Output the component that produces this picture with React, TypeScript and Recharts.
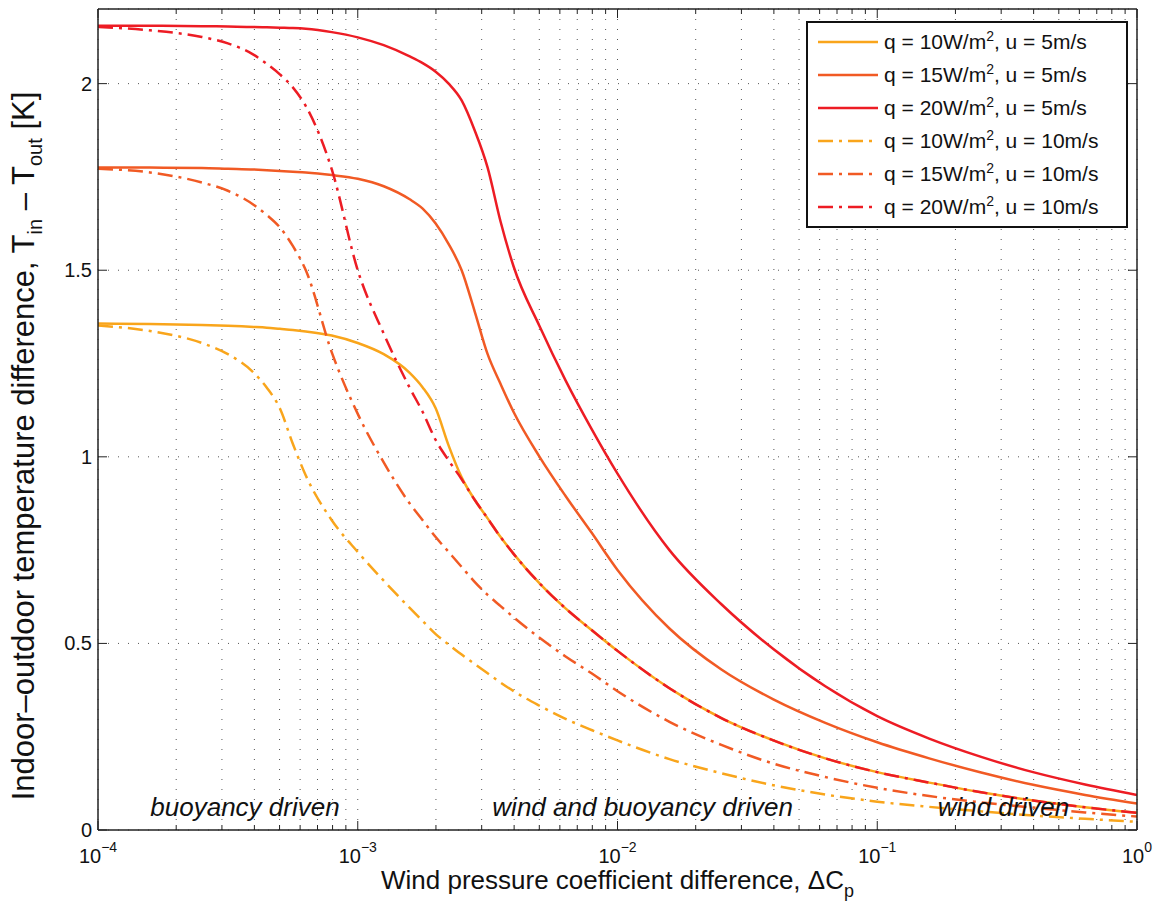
import React from "react";
import { LineChart, Line, XAxis, YAxis, CartesianGrid, Legend, ReferenceDot, Label } from "recharts";

// sample positions, as powers of ten of the pressure coefficient difference
const cpExponents = [
  -4, -3.8, -3.6, -3.5, -3.4, -3.35, -3.3, -3.25, -3.2, -3.1, -3.0, -2.9, -2.8, -2.75, -2.7, -2.65, -2.6, -2.55,
  -2.5, -2.45, -2.4, -2.3, -2.2, -2.1, -2.0, -1.8, -1.6, -1.4, -1.2, -1.0, -0.8, -0.6, -0.4, -0.2, 0,
];

// u = 5 m/s (solid)
const q10u5 = [
  1.357, 1.356, 1.353, 1.351, 1.348, 1.346, 1.343, 1.34, 1.336, 1.325, 1.305, 1.275, 1.225, 1.186, 1.13, 1.03, 0.945,
  0.885, 0.835, 0.785, 0.74, 0.661, 0.594, 0.536, 0.48, 0.38, 0.3, 0.24, 0.192, 0.155, 0.127, 0.101, 0.079, 0.061, 0.046,
];
const q15u5 = [
  1.775, 1.775, 1.774, 1.772, 1.77, 1.768, 1.766, 1.764, 1.762, 1.755, 1.745, 1.725, 1.69, 1.665, 1.625, 1.57, 1.5,
  1.39, 1.275, 1.195, 1.12, 1.0, 0.895, 0.797, 0.697, 0.54, 0.43, 0.35, 0.287, 0.235, 0.192, 0.154, 0.121, 0.094, 0.071,
];
const q20u5 = [
  2.155, 2.155, 2.154, 2.153, 2.152, 2.151, 2.15, 2.149, 2.147, 2.138, 2.124, 2.103, 2.073, 2.055, 2.032, 2.0, 1.955,
  1.875, 1.775, 1.63, 1.51, 1.35, 1.205, 1.075, 0.955, 0.75, 0.605, 0.485, 0.385, 0.305, 0.245, 0.196, 0.155, 0.122, 0.094,
];

// u = 10 m/s (dash-dot)
const q10u10 = [
  1.352, 1.337, 1.305, 1.275, 1.225, 1.185, 1.13, 1.035, 0.95, 0.83, 0.745, 0.668, 0.595, 0.56, 0.525, 0.497, 0.47,
  0.445, 0.42, 0.395, 0.372, 0.333, 0.298, 0.268, 0.24, 0.19, 0.152, 0.12, 0.095, 0.076, 0.062, 0.05, 0.039, 0.03, 0.022,
];
const q15u10 = [
  1.772, 1.762, 1.735, 1.713, 1.675, 1.648, 1.615, 1.565, 1.5, 1.28, 1.115, 0.985, 0.875, 0.83, 0.785, 0.745, 0.705,
  0.665, 0.63, 0.6, 0.57, 0.515, 0.465, 0.42, 0.372, 0.29, 0.228, 0.178, 0.142, 0.113, 0.091, 0.074, 0.06, 0.047, 0.036,
];
const q20u10 = [
  2.152, 2.143, 2.125, 2.108, 2.077, 2.053, 2.025, 1.99, 1.94, 1.77, 1.5, 1.33, 1.185, 1.12, 1.045, 0.99, 0.94,
  0.885, 0.835, 0.785, 0.74, 0.661, 0.594, 0.536, 0.48, 0.38, 0.3, 0.24, 0.192, 0.155, 0.127, 0.101, 0.079, 0.061, 0.046,
];

const yTicks = [0, 0.5, 1, 1.5, 2];
const decades = [-4, -3, -2, -1];

const regionNotes = [
  { text: "buoyancy driven", cp: 3.68e-4, t: 0.037 },
  { text: "wind and buoyancy driven", cp: 0.0125, t: 0.037 },
  { text: "wind driven", cp: 0.306, t: 0.037 },
];

const ORANGE = "#F9A51B";
const ORANGE_RED = "#F15A24";
const RED = "#ED1C24";
const DASH_DOT = "15 6 3 6";

const series = [
  { key: "q10u5", q: "10", u: "5", color: ORANGE, dash: undefined, values: q10u5 },
  { key: "q15u5", q: "15", u: "5", color: ORANGE_RED, dash: undefined, values: q15u5 },
  { key: "q20u5", q: "20", u: "5", color: RED, dash: undefined, values: q20u5 },
  { key: "q10u10", q: "10", u: "10", color: ORANGE, dash: DASH_DOT, values: q10u10 },
  { key: "q15u10", q: "15", u: "10", color: ORANGE_RED, dash: DASH_DOT, values: q15u10 },
  { key: "q20u10", q: "20", u: "10", color: RED, dash: DASH_DOT, values: q20u10 },
];

const data = cpExponents.map((e, i) => {
  const row: Record<string, number> = { cp: Math.pow(10, e) };
  series.forEach((s) => {
    row[s.key] = s.values[i];
  });
  return row;
});

const xTicks: number[] = [];
decades.forEach((d) => {
  for (let m = 1; m <= 9; m++) xTicks.push(m * Math.pow(10, d));
});
xTicks.push(1);

const isMajor = (v: number) => Math.abs(Math.log10(v) - Math.round(Math.log10(v))) < 1e-6;

const AXIS = "#222";
const FONT = "'Liberation Sans', Arial, Helvetica, sans-serif";

const BottomTick = (props: any) => {
  const { x, y, payload } = props;
  const major = isMajor(payload.value);
  const exp = Math.round(Math.log10(payload.value));
  return (
    <g>
      <line x1={x} x2={x} y1={y} y2={y - (major ? 9 : 5)} stroke={AXIS} />
      {major && (
        <text x={x} y={y + 33} textAnchor="middle" fontSize={20} fill="#111">
          <tspan>10</tspan>
          <tspan dy={-11} fontSize={14}>
            {exp < 0 ? `−${-exp}` : exp}
          </tspan>
        </text>
      )}
    </g>
  );
};

const TopTick = (props: any) => {
  const { x, y, payload } = props;
  const major = isMajor(payload.value);
  return <line x1={x} x2={x} y1={y} y2={y + (major ? 9 : 5)} stroke={AXIS} />;
};

const LeftTick = (props: any) => {
  const { x, y, payload } = props;
  return (
    <g>
      <line x1={x} x2={x + 9} y1={y} y2={y} stroke={AXIS} />
      <text x={x - 6} y={y + 7} textAnchor="end" fontSize={20} fill="#111">
        {String(payload.value)}
      </text>
    </g>
  );
};

const RightTick = (props: any) => {
  const { x, y } = props;
  return <line x1={x} x2={x - 9} y1={y} y2={y} stroke={AXIS} />;
};

const LegendBox = () => (
  <div
    style={{
      border: "2px solid #111",
      background: "#fff",
      width: 318,
      height: 201,
      paddingTop: 2,
      boxSizing: "content-box",
      fontFamily: FONT,
    }}
  >
    {series.map((s) => (
      <div key={s.key} style={{ display: "flex", alignItems: "center", height: 33, paddingLeft: 10 }}>
        <svg width={60} height={6}>
          <line x1={0} x2={60} y1={3} y2={3} stroke={s.color} strokeWidth={2.5} strokeDasharray={s.dash} />
        </svg>
        <span style={{ marginLeft: 6, fontSize: 21, color: "#111", whiteSpace: "nowrap" }}>
          q = {s.q}W/m<sup style={{ fontSize: 14, lineHeight: 0 }}>2</sup>, u = {s.u}m/s
        </span>
      </div>
    ))}
  </div>
);

const XTitle = (props: any) => {
  const { x, y, width } = props.viewBox;
  return (
    <text x={x + width / 2} y={y + 59} textAnchor="middle" fontSize={26} fill="#111">
      Wind pressure coefficient difference, ΔC
      <tspan dy={8} fontSize={18}>
        p
      </tspan>
    </text>
  );
};

const YTitle = () => {
  const cx = 34;
  const cy = 446;
  return (
    <text x={cx} y={cy} transform={`rotate(-90, ${cx}, ${cy})`} textAnchor="middle" fontSize={31} fill="#111">
      Indoor–outdoor temperature difference, T
      <tspan dy={8} fontSize={20}>
        in
      </tspan>
      <tspan dy={-8}> – T</tspan>
      <tspan dy={8} fontSize={20}>
        out
      </tspan>
      <tspan dy={-8}> [K]</tspan>
    </text>
  );
};

export default function App() {
  return (
    <div style={{ width: 1163, height: 906, margin: "-8px 0 0 -8px", position: "relative", fontFamily: FONT }}>
      <LineChart width={1163} height={906} data={data} margin={{ top: 0, right: 0, bottom: 0, left: 0 }}>
        <CartesianGrid stroke="#555" strokeDasharray="1 9" />
        <XAxis
          dataKey="cp"
          type="number"
          scale="log"
          domain={[1e-4, 1]}
          allowDataOverflow
          ticks={xTicks}
          interval={0}
          height={76}
          tickSize={0}
          tickMargin={0}
          tickLine={false}
          tick={<BottomTick />}
          axisLine={{ stroke: AXIS, strokeWidth: 1.5 }}
        >
          <Label content={<XTitle />} />
        </XAxis>
        <XAxis
          xAxisId="top"
          orientation="top"
          dataKey="cp"
          type="number"
          scale="log"
          domain={[1e-4, 1]}
          allowDataOverflow
          ticks={xTicks}
          interval={0}
          height={9}
          tickSize={0}
          tickMargin={0}
          tickLine={false}
          tick={<TopTick />}
          axisLine={{ stroke: AXIS, strokeWidth: 1.5 }}
        />
        <YAxis
          type="number"
          domain={[0, 2.2]}
          allowDataOverflow
          ticks={yTicks}
          interval={0}
          width={98}
          tickSize={0}
          tickMargin={0}
          tickLine={false}
          tick={<LeftTick />}
          axisLine={{ stroke: AXIS, strokeWidth: 1.5 }}
        >
          <Label content={<YTitle />} />
        </YAxis>
        <YAxis
          yAxisId="right"
          orientation="right"
          type="number"
          domain={[0, 2.2]}
          allowDataOverflow
          ticks={yTicks}
          interval={0}
          width={26}
          tickSize={0}
          tickMargin={0}
          tickLine={false}
          tick={<RightTick />}
          axisLine={{ stroke: AXIS, strokeWidth: 1.5 }}
        />
        {series.map((s) => (
          <Line
            key={s.key}
            dataKey={s.key}
            type="monotone"
            stroke={s.color}
            strokeWidth={2.5}
            strokeDasharray={s.dash}
            dot={false}
            activeDot={false}
            isAnimationActive={false}
          />
        ))}
        {regionNotes.map((n) => (
          <ReferenceDot
            key={n.text}
            x={n.cp}
            y={n.t}
            r={1}
            fill="none"
            stroke="none"
            ifOverflow="visible"
            label={(p: any) => (
              <text
                x={p.viewBox.x + p.viewBox.width / 2}
                y={p.viewBox.y + p.viewBox.height / 2}
                textAnchor="middle"
                fontSize={26}
                fontStyle="italic"
                fill="#111"
              >
                {n.text}
              </text>
            )}
          />
        ))}
        <Legend
          content={<LegendBox />}
          layout="vertical"
          align="center"
          verticalAlign="middle"
          wrapperStyle={{ top: 21, left: 806, width: 322, height: 205 }}
        />
      </LineChart>
    </div>
  );
}
